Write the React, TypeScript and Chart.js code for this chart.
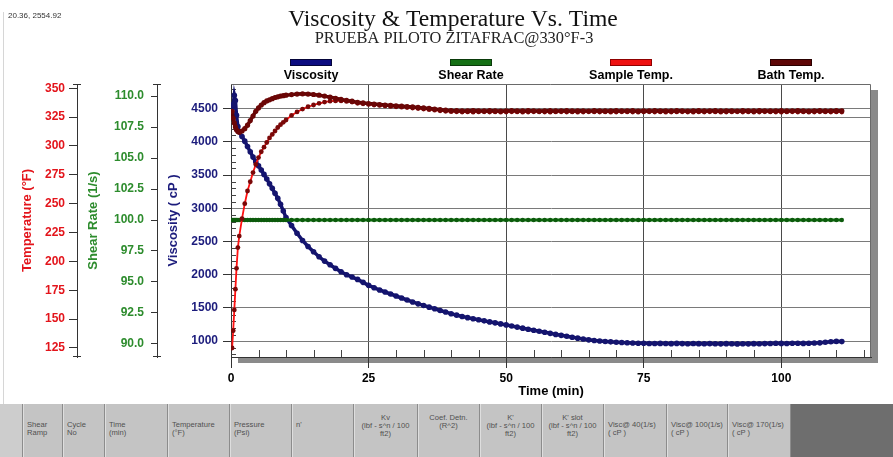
import { useEffect, useRef } from 'react';
import { Chart, registerables } from 'chart.js';

Chart.register(...registerables);

// ---------- data ----------
const times = [
  0.2, 0.4, 0.6, 0.8, 1, 1.25, 1.5, 2, 2.5, 3, 3.5, 4, 4.5, 5, 5.5, 6, 6.5, 7, 7.5, 8, 8.5, 9, 9.5, 10,
  11, 12, 13, 14, 15, 16, 17, 18, 19, 20,
  21, 22, 23, 24, 25, 26, 27, 28, 29, 30,
  31, 32, 33, 34, 35, 36, 37, 38, 39, 40,
  41, 42, 43, 44, 45, 46, 47, 48, 49, 50,
  51, 52, 53, 54, 55, 56, 57, 58, 59, 60,
  61, 62, 63, 64, 65, 66, 67, 68, 69, 70,
  71, 72, 73, 74, 75, 76, 77, 78, 79, 80,
  81, 82, 83, 84, 85, 86, 87, 88, 89, 90,
  91, 92, 93, 94, 95, 96, 97, 98, 99, 100,
  101, 102, 103, 104, 105, 106, 107, 108, 109, 110, 111,
];

const viscosity = [
  4440, 4560, 4700, 4620, 4400, 4230, 4150, 4080, 4010, 3930, 3850, 3770, 3700, 3640, 3575, 3510, 3440, 3370, 3300, 3225, 3150, 3060, 2960, 2860,
  2740, 2625, 2515, 2425, 2345, 2270, 2205, 2150, 2095, 2045,
  2000, 1965, 1930, 1885, 1840, 1805, 1770, 1740, 1710, 1680,
  1650, 1620, 1590, 1562, 1538, 1512, 1488, 1462, 1440, 1412,
  1392, 1372, 1354, 1338, 1322, 1306, 1290, 1276, 1260, 1245,
  1228, 1212, 1196, 1180, 1165, 1150, 1134, 1118, 1102, 1088,
  1074, 1060, 1046, 1032, 1020, 1010, 1003, 996, 990, 985,
  980, 976, 972, 970, 968, 966, 965, 967, 965, 963,
  967, 964, 962, 965, 963, 961, 964, 962, 960, 963,
  961, 959, 962, 960, 963, 961, 964, 966, 969, 967,
  965, 968, 969, 967, 970, 972, 975, 984, 991, 997, 994,
];

const shearRate = [
  100, 100, 100, 100, 100, 100, 100, 100, 100, 100, 100, 100, 100, 100, 100, 100, 100, 100, 100, 100, 100, 100, 100, 100,
  100, 100, 100, 100, 100, 100, 100, 100, 100, 100,
  100, 100, 100, 100, 100, 100, 100, 100, 100, 100,
  100, 100, 100, 100, 100, 100, 100, 100, 100, 100,
  100, 100, 100, 100, 100, 100, 100, 100, 100, 100,
  100, 100, 100, 100, 100, 100, 100, 100, 100, 100,
  100, 100, 100, 100, 100, 100, 100, 100, 100, 100,
  100, 100, 100, 100, 100, 100, 100, 100, 100, 100,
  100, 100, 100, 100, 100, 100, 100, 100, 100, 100,
  100, 100, 100, 100, 100, 100, 100, 100, 100, 100,
  100, 100, 100, 100, 100, 100, 100, 100, 100, 100, 100,
];

const sampleTemp = [
  125, 140, 158, 176, 194, 212, 222, 237, 250, 261, 269, 277, 284, 290, 295, 299, 303, 307, 310, 313, 316, 318.5, 320.5, 322.5,
  326.5, 329.5, 332, 334, 335.5, 337, 338, 338.8, 339, 339,
  338.6, 338, 337, 336.5, 336, 335.5, 335.1, 334.7, 334.3, 334,
  333.6, 333.3, 332.9, 332.4, 332, 331.5, 331, 330.5, 330, 329.7,
  329.6, 329.4, 329.5, 329.3, 329.5, 329.6, 329.4, 329.5, 329.3, 329.4,
  329.6, 329.5, 329.3, 329.4, 329.6, 329.5, 329.4, 329.3, 329.5, 329.6,
  329.4, 329.5, 329.3, 329.4, 329.6, 329.5, 329.4, 329.5, 329.3, 329.4,
  329.6, 329.5, 329.4, 329.3, 329.5, 329.6, 329.4, 329.5, 329.3, 329.4,
  329.5, 329.6, 329.4, 329.3, 329.5, 329.4, 329.6, 329.5, 329.3, 329.4,
  329.5, 329.6, 329.4, 329.5, 329.3, 329.4, 329.6, 329.5, 329.4, 329.3,
  329.5, 329.6, 329.4, 329.5, 329.3, 329.4, 329.6, 329.5, 329.4, 329.5, 329.4,
];

const bathTemp = [
  330, 324, 320, 316.5, 314, 312.5, 312, 313, 315, 318, 322, 326, 330, 333, 335.5, 337.5, 339, 340, 341, 342, 342.6, 343.2, 343.6, 344,
  344.5, 345, 345.2, 345, 344.6, 344, 343.2, 342.3, 341.3, 340.3,
  339.5, 338.8, 337.8, 337.3, 336.8, 336.3, 335.9, 335.5, 335.1, 334.8,
  334.5, 334.2, 333.8, 333.4, 333, 332.5, 332, 331.5, 331, 330.7,
  330.6, 330.4, 330.5, 330.7, 330.5, 330.4, 330.6, 330.5, 330.3, 330.5,
  330.6, 330.5, 330.4, 330.6, 330.5, 330.3, 330.5, 330.6, 330.4, 330.5,
  330.6, 330.4, 330.5, 330.5, 330.3, 330.6, 330.5, 330.4, 330.5, 330.6,
  330.4, 330.5, 330.6, 330.3, 330.5, 330.4, 330.6, 330.5, 330.5, 330.4,
  330.6, 330.5, 330.3, 330.5, 330.6, 330.4, 330.5, 330.6, 330.4, 330.5,
  330.5, 330.3, 330.6, 330.5, 330.4, 330.6, 330.5, 330.4, 330.5, 330.6,
  330.4, 330.5, 330.6, 330.5, 330.3, 330.5, 330.6, 330.4, 330.5, 330.6, 330.5,
];

// tick labels
const timeTicks = [0, 25, 50, 75, 100];
const viscosityTicks = [1000, 1500, 2000, 2500, 3000, 3500, 4000, 4500];
const shearTicks = [90, 92.5, 95, 97.5, 100, 102.5, 105, 107.5, 110];
const tempTicks = [125, 150, 175, 200, 225, 250, 275, 300, 325, 350];

const seriesNames = ['Viscosity', 'Shear Rate', 'Sample Temp.', 'Bath Temp.'];
const chartTitle = 'Viscosity & Temperature Vs. Time';
const chartSubtitle = 'PRUEBA PILOTO ZITAFRAC@330°F-3';
const cursorReadout = '20.36, 2554.92';
const targetTemp = 325;

const tableHeaders: string[][] = [
  [],
  ['Shear', 'Ramp'],
  ['Cycle', 'No'],
  ['Time', '(min)'],
  ['Temperature', '(°F)'],
  ['Pressure', '(Psi)'],
  ["n'"],
  ['Kv', '(lbf - s^n / 100', 'ft2)'],
  ['Coef. Detn.', '(R^2)'],
  ["K'", '(lbf - s^n / 100', 'ft2)'],
  ["K' slot", '(lbf - s^n / 100', 'ft2)'],
  ['Visc@ 40(1/s)', '( cP )'],
  ['Visc@ 100(1/s)', '( cP )'],
  ['Visc@ 170(1/s)', '( cP )'],
];

// ---------- styles ----------
const SANS = '"Liberation Sans", Arial, sans-serif';
const SERIF = '"Liberation Serif", "Times New Roman", serif';
const legendColors = ['#0c0c80', '#157015', '#ee1111', '#5e0606'];
const legendEdges = ['#05053a', '#0a3a0a', '#900000', '#2a0000'];
const colEdges = [0, 22, 62, 104, 167, 229, 291, 353, 417, 479, 541, 603, 666, 727, 790, 893];
const centeredCols = [7, 8, 9, 10];

const isMultiple = (v: number, step: number) => Math.abs(v / step - Math.round(v / step)) < 1e-6;
const setTicks = (list: number[]) => (s: any) => {
  s.ticks = list.map((value) => ({ value }));
};

const decorPlugin = {
  id: 'decor',
  beforeDraw(chart: any) {
    const { ctx, chartArea: a } = chart;
    ctx.save();
    ctx.strokeStyle = '#d6d6d6';
    ctx.lineWidth = 1;
    ctx.beginPath();
    ctx.moveTo(3.5, 12);
    ctx.lineTo(3.5, chart.height);
    ctx.stroke();

    ctx.fillStyle = '#333';
    ctx.textAlign = 'left';
    ctx.textBaseline = 'alphabetic';
    ctx.font = `8px ${SANS}`;
    ctx.fillText(cursorReadout, 8, 18);

    ctx.fillStyle = '#111';
    ctx.textAlign = 'center';
    ctx.font = `23.6px ${SERIF}`;
    ctx.fillText(chartTitle, 453, 26);
    ctx.fillStyle = '#222';
    ctx.font = `16.4px ${SERIF}`;
    ctx.fillText(chartSubtitle, 454, 43);

    // drop shadow + plot background
    ctx.fillStyle = '#8a8a8a';
    ctx.fillRect(a.left + 7, a.top + 6, a.right - a.left, a.bottom - a.top);
    ctx.fillStyle = '#ffffff';
    ctx.fillRect(a.left, a.top, a.right - a.left, a.bottom - a.top);
    ctx.restore();
  },
  beforeDatasetsDraw(chart: any) {
    const { ctx, chartArea: a } = chart;
    ctx.save();
    ctx.lineWidth = 1;
    // target temperature line
    ctx.strokeStyle = '#7a7a7a';
    const yT = Math.round(chart.scales.yTemp.getPixelForValue(targetTemp)) + 0.5;
    ctx.beginPath();
    ctx.moveTo(a.left, yT);
    ctx.lineTo(a.right, yT);
    ctx.stroke();
    // top / right border
    ctx.strokeStyle = '#6a6a6a';
    ctx.beginPath();
    ctx.moveTo(a.left, a.top + 0.5);
    ctx.lineTo(a.right - 0.5, a.top + 0.5);
    ctx.lineTo(a.right - 0.5, a.bottom);
    ctx.stroke();
    // minor ticks (every 5 min on x, every 100 cP on viscosity)
    ctx.strokeStyle = '#444';
    const xs = chart.scales.x;
    for (let v = Math.ceil(xs.min / 5) * 5; v <= xs.max; v += 5) {
      if (isMultiple(v, 25)) continue;
      const px = Math.round(xs.getPixelForValue(v)) + 0.5;
      ctx.beginPath();
      ctx.moveTo(px, a.bottom);
      ctx.lineTo(px, a.bottom - 7);
      ctx.stroke();
    }
    const yv = chart.scales.yVisc;
    for (let v = Math.ceil(yv.min / 100) * 100; v <= yv.max; v += 100) {
      if (isMultiple(v, 500)) continue;
      const py = Math.round(yv.getPixelForValue(v)) + 0.5;
      ctx.beginPath();
      ctx.moveTo(a.left, py);
      ctx.lineTo(a.left + 5, py);
      ctx.stroke();
    }
    ctx.restore();
  },
  afterDraw(chart: any) {
    const { ctx, chartArea: a } = chart;
    ctx.save();
    // axis end caps
    ctx.strokeStyle = '#333';
    ctx.lineWidth = 1;
    ['yTemp', 'yShear'].forEach((id) => {
      const s = chart.scales[id];
      const x = Math.round(s.right);
      [a.top + 0.5, a.bottom - 0.5].forEach((y) => {
        ctx.beginPath();
        ctx.moveTo(x - 4, y);
        ctx.lineTo(x + 4, y);
        ctx.stroke();
      });
    });
    // legend
    const w = (a.right - a.left) / seriesNames.length;
    ctx.textAlign = 'center';
    ctx.textBaseline = 'alphabetic';
    ctx.font = `bold 12.5px ${SANS}`;
    seriesNames.forEach((name, i) => {
      const cx = a.left + (i + 0.5) * w;
      ctx.fillStyle = legendColors[i];
      ctx.fillRect(cx - 21, 59, 42, 7);
      ctx.strokeStyle = legendEdges[i];
      ctx.strokeRect(cx - 20.5, 59.5, 41, 6);
      ctx.fillStyle = '#000';
      ctx.fillText(name, cx, 79);
    });
    ctx.restore();
  },
};

function toPoints(values: number[]) {
  return times.map((t, i) => ({ x: t, y: values[i] }));
}

export default function App() {
  const ref = useRef<HTMLCanvasElement | null>(null);

  useEffect(() => {
    if (!ref.current) return;
    const tickFont = (size = 12) => ({ family: SANS, size, weight: 'bold' as const });
    const chart = new Chart(ref.current, {
      type: 'line',
      data: {
        datasets: [
          {
            label: seriesNames[0],
            yAxisID: 'yVisc',
            data: toPoints(viscosity),
            borderColor: '#12126e',
            borderWidth: 3.5,
            pointRadius: 2.8,
            pointBorderWidth: 0,
            pointBackgroundColor: '#14146e',
            order: 3,
          },
          {
            label: seriesNames[1],
            yAxisID: 'yShear',
            data: toPoints(shearRate),
            borderColor: '#0c6e0c',
            borderWidth: 3,
            pointRadius: 2.2,
            pointBorderWidth: 0,
            pointBackgroundColor: '#0c5a0c',
            order: 2,
          },
          {
            label: seriesNames[2],
            yAxisID: 'yTemp',
            data: toPoints(sampleTemp),
            borderColor: '#ff1010',
            borderWidth: 1.8,
            pointRadius: 2.4,
            pointBorderWidth: 0,
            pointBackgroundColor: '#7a0808',
            order: 1,
          },
          {
            label: seriesNames[3],
            yAxisID: 'yTemp',
            data: toPoints(bathTemp),
            borderColor: '#5c0404',
            borderWidth: 3.5,
            pointRadius: 2.6,
            pointBorderWidth: 0,
            pointBackgroundColor: '#6b0606',
            order: 0,
          },
        ],
      },
      options: {
        responsive: false,
        animation: false,
        events: [],
        layout: { padding: { top: 84, right: 22, left: 0, bottom: 0 } },
        plugins: { legend: { display: false }, title: { display: false }, tooltip: { enabled: false } },
        elements: { line: { tension: 0 } },
        scales: {
          x: {
            type: 'linear',
            position: 'bottom',
            min: 0,
            max: 116.3,
            afterBuildTicks: setTicks(timeTicks),
            ticks: {
              autoSkip: false,
              maxRotation: 0,
              padding: 3,
              color: '#000',
              font: tickFont(12),
              callback: (v: any) => String(v),
            },
            grid: { color: '#4a4a4a', tickColor: '#333', tickLength: 11, lineWidth: 1 },
            border: { display: true, color: '#333', width: 1 },
            title: {
              display: true,
              text: 'Time (min)',
              color: '#000',
              font: tickFont(13),
              padding: { top: 0, bottom: 5 },
            },
            afterFit: (s: any) => {
              s.height = 47;
            },
          },
          yVisc: {
            type: 'linear',
            position: 'left',
            weight: 1,
            min: 762,
            max: 4870,
            afterBuildTicks: setTicks(viscosityTicks),
            ticks: {
              autoSkip: false,
              padding: 5,
              color: '#1c1c7c',
              font: tickFont(12),
              callback: (v: any) => String(v),
            },
            grid: { color: '#7a7a7a', tickColor: '#333', tickLength: 8, lineWidth: 1 },
            border: { display: true, color: '#333', width: 1 },
            title: {
              display: true,
              text: 'Viscosity ( cP )',
              color: '#1c1c7c',
              font: tickFont(13),
              padding: { top: 9, bottom: 0 },
            },
            afterFit: (s: any) => {
              s.width = 74;
            },
          },
          yShear: {
            type: 'linear',
            position: 'left',
            weight: 2,
            min: 88.95,
            max: 110.97,
            afterBuildTicks: setTicks(shearTicks),
            ticks: {
              autoSkip: false,
              padding: 7,
              color: '#2d8c2d',
              font: tickFont(12),
              callback: (v: any) => Number(v).toFixed(1),
            },
            grid: { drawOnChartArea: false, tickLength: 6, tickColor: '#333' },
            border: { display: true, color: '#333', width: 1 },
            title: {
              display: true,
              text: 'Shear Rate (1/s)',
              color: '#2d8c2d',
              font: tickFont(13),
              padding: { top: 9, bottom: 0 },
            },
            afterFit: (s: any) => {
              s.width = 80;
            },
          },
          yTemp: {
            type: 'linear',
            position: 'left',
            weight: 3,
            min: 117.2,
            max: 353.7,
            afterBuildTicks: setTicks(tempTicks),
            ticks: {
              autoSkip: false,
              padding: 4,
              color: '#e3141b',
              font: tickFont(12),
              callback: (v: any) => String(v),
            },
            grid: { drawOnChartArea: false, tickLength: 8, tickColor: '#333' },
            border: { display: true, color: '#333', width: 1 },
            title: {
              display: true,
              text: 'Temperature (°F)',
              color: '#e3141b',
              font: tickFont(13),
              padding: { top: 20, bottom: 0 },
            },
            afterFit: (s: any) => {
              s.width = 77;
            },
          },
        },
      } as any,
      plugins: [decorPlugin],
    });
    return () => chart.destroy();
  }, []);

  return (
    <div
      style={{
        position: 'fixed',
        left: 0,
        top: 0,
        width: 893,
        height: 457,
        background: '#fff',
        overflow: 'hidden',
      }}
    >
      <canvas ref={ref} width={893} height={404} style={{ position: 'absolute', left: 0, top: 0, width: 893, height: 404 }} />
      <div style={{ position: 'absolute', left: 0, top: 404, width: 893, height: 53, background: '#c4c4c4' }}>
        {tableHeaders.map((lines, i) => {
          const left = colEdges[i];
          const width = colEdges[i + 1] - colEdges[i];
          const centered = centeredCols.includes(i);
          return (
            <div
              key={i}
              style={{
                position: 'absolute',
                left,
                top: 0,
                width,
                height: 53,
                boxSizing: 'border-box',
                background: i === 0 ? '#cdcdcd' : '#c4c4c4',
                borderLeft: i === 0 ? 'none' : '1px solid #8c8c8c',
                boxShadow: i === 0 ? 'none' : 'inset 1px 0 0 #dedede',
                paddingTop: centered ? 9.5 : 17,
                paddingLeft: centered ? 0 : 4,
                textAlign: centered ? 'center' : 'left',
                fontFamily: SANS,
                fontSize: 7.6,
                lineHeight: '8px',
                color: '#505050',
                whiteSpace: 'nowrap',
              }}
            >
              {lines.map((l, j) => (
                <div key={j}>{l}</div>
              ))}
            </div>
          );
        })}
        <div
          style={{
            position: 'absolute',
            left: colEdges[colEdges.length - 2],
            top: 0,
            width: colEdges[colEdges.length - 1] - colEdges[colEdges.length - 2],
            height: 53,
            background: '#6e6e6e',
            borderLeft: '1px solid #8c8c8c',
            boxSizing: 'border-box',
          }}
        />
      </div>
    </div>
  );
}
